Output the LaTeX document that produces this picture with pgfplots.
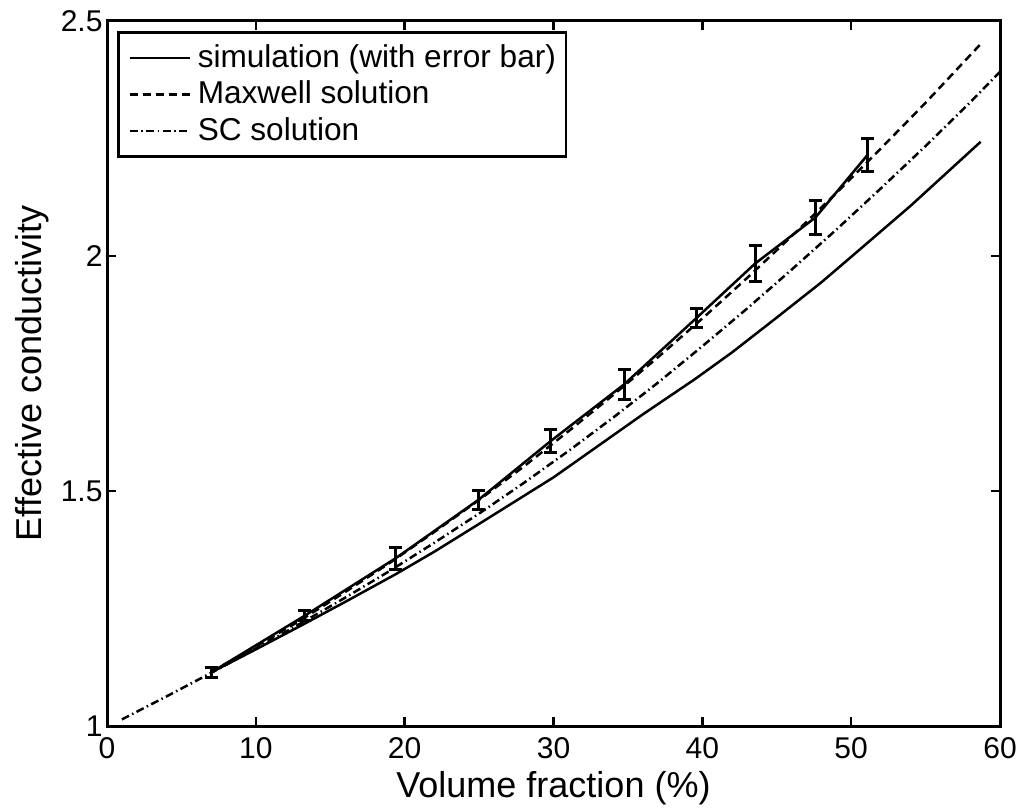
\documentclass[border=0pt]{standalone}
\usepackage{fontspec}
\setmainfont{Liberation Sans}
\usepackage{pgfplots}
\usepackage{pgfplotstable}
\pgfplotsset{compat=1.18}

\pgfplotstableread{
x y e
7.0 1.114 0.010
13.3 1.235 0.010
19.4 1.357 0.023
24.95 1.481 0.020
29.8 1.606 0.025
34.75 1.727 0.032
39.6 1.868 0.021
43.55 1.984 0.039
47.6 2.082 0.037
51.1 2.215 0.036
}\simdata

\pgfplotstableread{
x y
7 1.115
10 1.169
13 1.225
16 1.285
19 1.347
22 1.413
25 1.481
28 1.552
31 1.627
34 1.704
37 1.784
40 1.867
43 1.953
46 2.042
49 2.134
52 2.229
55 2.326
58.7 2.451
}\maxwelldata

\pgfplotstableread{
x y
1 1.014
4 1.063
7 1.113
10 1.165
13 1.218
16 1.273
19 1.330
22 1.390
25 1.452
28 1.517
31 1.585
34 1.656
37 1.730
40 1.808
43 1.888
46 1.971
49 2.056
52 2.144
55 2.234
58 2.327
60 2.392
}\scdata

\pgfplotstableread{
x y
7 1.114
10 1.163
13 1.213
16 1.264
19.4 1.323
22 1.371
25 1.430
30 1.529
36 1.663
39.5 1.738
42 1.795
45 1.869
48 1.944
50.4 2.009
54 2.107
58.7 2.243
}\lowerdata

\begin{document}
\begin{tikzpicture}[x=1pt,y=1pt]
\useasboundingbox (0,0) rectangle (1024,811);
\begin{axis}[
  at={(107pt,85pt)}, anchor=south west,
  scale only axis, width=893pt, height=705pt,
  xmin=0, xmax=60, ymin=1, ymax=2.5,
  xtick={0,10,20,30,40,50,60},
  xticklabels={0,10,20,30,40,50,60},
  ytick={1,1.5,2,2.5},
  yticklabels={1,1.5,2,2.5},
  /pgf/number format/assume math mode=true,
  tick label style={font=\fontsize{30}{35}\selectfont, text=black},
  xticklabel style={yshift=-8pt},
  yticklabel style={xshift=-1pt},
  tick align=inside,
  major tick length=9pt,
  every tick/.style={black, line width=2.5pt},
  axis line style={black, line width=3pt},
  xlabel={Volume fraction (\%)},
  ylabel={Effective conductivity},
  label style={font=\fontsize{36}{42}\selectfont},
  xlabel style={at={(axis description cs:0.5,0)}, anchor=base, yshift=-71pt},
  ylabel style={at={([xshift=-65.5pt]axis description cs:0,0.5)}, anchor=base},
  legend image code/.code={\draw[#1] (0pt,0pt) -- (60pt,0pt);},
  legend cell align=left,
  legend style={at={(0.0112,0.9858)}, anchor=north west, draw=black, line width=2.5pt,
    font=\fontsize{31.6}{37}\selectfont, inner xsep=10pt, inner ysep=11pt,
    row sep=7.5pt, column sep=7pt,
    nodes={inner sep=0pt, text height=24pt, text depth=5pt}},
]
\addplot[black, line width=2.5pt,
  error bars/.cd, y dir=both, y explicit,
  error bar style={line width=3pt},
  error mark options={rotate=90, mark size=6.5pt, line width=3pt}]
  table[x=x, y=y, y error=e] {\simdata};
\addlegendentry{simulation (with error bar)}
\addplot[black, line width=2.5pt, dash pattern=on 8pt off 5pt] table[x=x,y=y] {\maxwelldata};
\addlegendentry{Maxwell solution}
\addplot[black, line width=2.5pt, dash pattern=on 8pt off 3.5pt on 1.5pt off 3.5pt] table[x=x,y=y] {\scdata};
\addlegendentry{SC solution}
\addplot[black, line width=2.5pt, forget plot] table[x=x,y=y] {\lowerdata};
\end{axis}
\end{tikzpicture}
\end{document}
